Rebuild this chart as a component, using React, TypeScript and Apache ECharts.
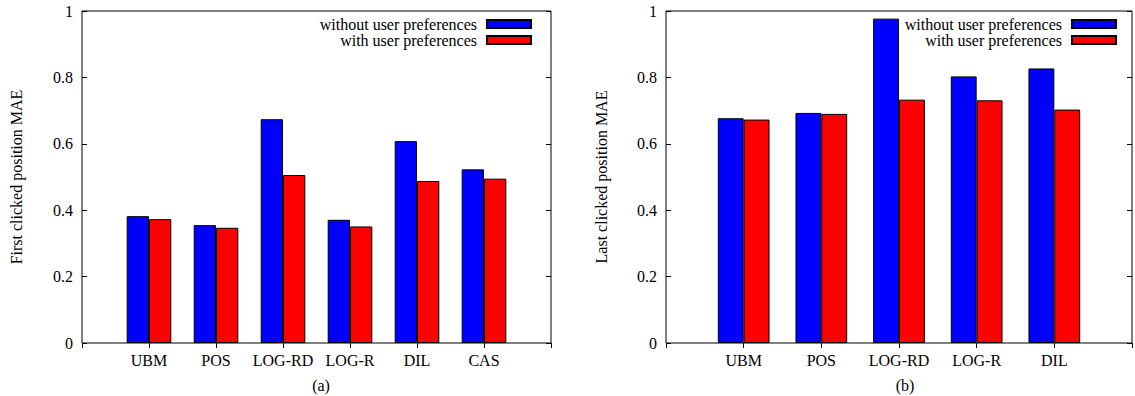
import React, { useEffect, useRef } from "react";
import * as echarts from "echarts";

const catsA = ["UBM", "POS", "LOG-RD", "LOG-R", "DIL", "CAS"];
const withoutA = [0.382, 0.355, 0.674, 0.371, 0.608, 0.523];
const withA = [0.373, 0.347, 0.506, 0.351, 0.488, 0.495];

const catsB = ["UBM", "POS", "LOG-RD", "LOG-R", "DIL"];
const withoutB = [0.677, 0.693, 0.977, 0.803, 0.827];
const withB = [0.673, 0.69, 0.733, 0.731, 0.703];

const yTicks = [0, 0.2, 0.4, 0.6, 0.8, 1];
const seriesNames = ["without user preferences", "with user preferences"];
const axisTitles = ["First clicked position MAE", "Last clicked position MAE"];
const panelLabels = ["(a)", "(b)"];
const colors = ["#0000ff", "#ff0000"];

const FONT = "'Liberation Serif', 'Times New Roman', serif";

const padCats = (c: string[]) => ["", ...c, ""];
const padVals = (v: number[]) => ["-", ...v, "-"];

export default function App() {
  const ref = useRef<HTMLDivElement>(null);
  useEffect(() => {
    if (!ref.current) return;
    const chart = echarts.init(ref.current, undefined, { renderer: "svg" });
    const grids = [
      { left: 82, right: 1135 - 551, top: 11, bottom: 53 },
      { left: 666, right: 1, top: 11, bottom: 53 },
    ];
    const cats = [catsA, catsB];
    const xAxis: any[] = [];
    const yAxis: any[] = [];
    const yMin = yTicks[0];
    const yMax = yTicks[yTicks.length - 1];
    const yInt = yTicks[1] - yTicks[0];
    [0, 1].forEach((g) => {
      xAxis.push({
        type: "category",
        gridIndex: g,
        position: "bottom",
        boundaryGap: false,
        data: padCats(cats[g]),
        axisLine: { show: false },
        axisTick: { show: false },
        axisLabel: {
          interval: 0,
          color: "#000",
          fontSize: 16,
          fontFamily: FONT,
          margin: 9,
        },
        splitLine: { show: false },
      });
      xAxis.push({
        type: "category",
        gridIndex: g,
        position: "top",
        boundaryGap: false,
        data: padCats(cats[g]),
        axisLine: { show: false },
        axisTick: { show: true, inside: true, length: 5, interval: 0, lineStyle: { color: "#000" } },
        axisLabel: { show: false },
        splitLine: { show: false },
      });
      yAxis.push({
        type: "value",
        gridIndex: g,
        position: "left",
        min: yMin,
        max: yMax,
        interval: yInt,
        name: axisTitles[g],
        nameLocation: "middle",
        nameRotate: 90,
        nameGap: g === 0 ? 58 : 57,
        nameTextStyle: { color: "#000", fontSize: 16, fontFamily: FONT },
        axisLine: { show: false },
        axisTick: { show: true, inside: true, length: 5, lineStyle: { color: "#000" } },
        axisLabel: {
          color: "#000",
          fontSize: 16,
          fontFamily: FONT,
          margin: 9,
          formatter: (v: number) => String(Math.round(v * 10) / 10),
        },
        splitLine: { show: false },
      });
      yAxis.push({
        type: "value",
        gridIndex: g,
        position: "right",
        min: yMin,
        max: yMax,
        interval: yInt,
        axisLine: { show: false },
        axisTick: { show: true, inside: true, length: 5, lineStyle: { color: "#000" } },
        axisLabel: { show: false },
        splitLine: { show: false },
      });
    });

    const dataSets = [
      [withoutA, withA],
      [withoutB, withB],
    ];
    const series: any[] = [];
    [0, 1].forEach((g) => {
      [0, 1].forEach((s) => {
        series.push({
          type: "bar",
          name: seriesNames[s],
          xAxisIndex: g * 2,
          yAxisIndex: g * 2,
          data: padVals(dataSets[g][s]),
          barWidth: "33.3%",
          barGap: "0%",
          itemStyle: { color: colors[s], borderColor: "#000", borderWidth: 1 },
        });
      });
    });

    const legendCommon = {
      orient: "vertical",
      align: "right",
      top: 16,
      itemWidth: 44,
      itemHeight: 8,
      itemGap: 0,
      padding: 0,
      selectedMode: false,
      icon: "rect",
      data: seriesNames,
      textStyle: {
        color: "#000",
        fontSize: 16,
        fontFamily: FONT,
        lineHeight: 16,
        padding: [0, 5, 0, 0],
      },
    };

    const titleStyle = { color: "#000", fontSize: 16, fontWeight: "normal", fontFamily: FONT };

    chart.setOption({
      animation: false,
      grid: grids.map((gr) => ({
        ...gr,
        show: true,
        borderColor: "#000",
        borderWidth: 1,
        backgroundColor: "transparent",
      })),
      xAxis,
      yAxis,
      series,
      legend: [
        { ...legendCommon, right: 1135 - 532 },
        { ...legendCommon, right: 1135 - 1117 },
      ],
      title: [
        { text: panelLabels[0], left: 316, top: 372, textAlign: "center", textStyle: titleStyle },
        { text: panelLabels[1], left: 900, top: 372, textAlign: "center", textStyle: titleStyle },
      ],
    });
    return () => chart.dispose();
  }, []);
  return (
    <div
      ref={ref}
      style={{ position: "absolute", left: 0, top: 0, width: 1135, height: 396, background: "#fff" }}
    />
  );
}
